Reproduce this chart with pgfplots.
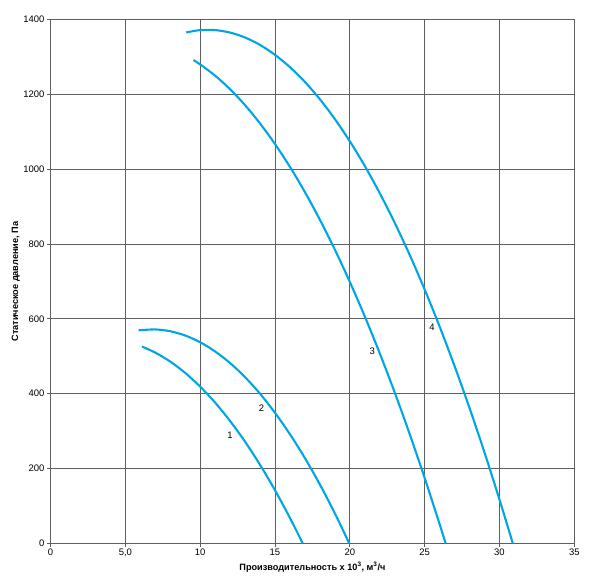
\documentclass[border=0pt]{standalone}
\usepackage{fontspec}
\setmainfont{Liberation Sans}
\usepackage{pgfplots}
\pgfplotsset{compat=1.18}
\definecolor{curve}{RGB}{0,166,228}
\definecolor{gridc}{RGB}{95,95,95}
\tikzset{fancurve/.style={draw=curve, line width=2.1bp, smooth, tension=0.5, mark=none}}
\begin{document}
\begin{tikzpicture}
\path[use as bounding box] (-50.5bp,-39.7bp) rectangle (549.5bp,543.3bp);
\begin{axis}[
  at={(0,0)}, anchor=south west,
  scale only axis,
  width=523.8bp, height=523.6bp,
  xmin=0, xmax=35, ymin=0, ymax=1400,
  xtick={0,5,10,15,20,25,30,35},
  xticklabels={0,{5,0},10,15,20,25,30,35},
  ytick={0,200,400,600,800,1000,1200,1400},
  yticklabels={0,200,400,600,800,1000,1200,1400},
  grid=major,
  grid style={gridc, line width=0.8bp},
  axis line style={gridc, line width=0.9bp},
  tick style={gridc, line width=0.8bp},
  tick align=outside,
  tick pos=left,
  major tick length=3.5bp,
  tick label style={font=\fontsize{9.5}{10}\selectfont, text=black},
  xticklabel style={yshift=1bp},
  yticklabel style={xshift=1bp},
  xlabel={\textbf{Производительность x 10\textsuperscript{3}, м\textsuperscript{3}/ч}},
  ylabel={\textbf{Статическое давление, Па}},
  xlabel style={at={(axis description cs:0.5,-0.0453)}, anchor=center, font=\fontsize{9.2}{10}\selectfont},
  ylabel style={at={(axis description cs:-0.066,0.5)}, anchor=center, font=\fontsize{9.2}{10}\selectfont},
  clip=false,
]
\addplot[fancurve] coordinates {(6.11,526) (7,509.9) (8,485.9) (9,455.6) (10,419) (11,376.2) (12,327) (13,271.7) (14,210) (15,142) (16,67.8) (16.85,0)};
\addplot[fancurve] coordinates {(5.89,569.5) (7,571.8) (8,567) (9,555.6) (10,537.6) (11,513) (12,482) (13,444.2) (14,400) (15,349) (16,291.7) (17,227.8) (18,157.3) (19,80.2) (19.96,0)};
\addplot[fancurve] coordinates {(9.55,1292) (10,1280.5) (11,1250.4) (12,1214) (13,1171.5) (14,1122.7) (15,1067.7) (16,1006.5) (17,939) (18,865.2) (19,785.3) (20,699) (21,606.7) (22,508) (23,403.2) (24,292.1) (25,174.8) (26,51.3) (26.4,0)};
\addplot[fancurve] coordinates {(9.07,1366) (10,1372.2) (11,1372.2) (12,1365.6) (13,1352.4) (14,1332.6) (15,1306) (16,1273.1) (17,1233.5) (18,1187.3) (19,1134.4) (20,1075) (21,1009) (22,936.2) (23,857) (24,771.2) (25,678.7) (26,579.6) (27,473.9) (28,361.6) (29,242.7) (30,117) (30.89,0)};
\node[font=\fontsize{9.5}{10}\selectfont] at (axis cs:12,290) {1};
\node[font=\fontsize{9.5}{10}\selectfont] at (axis cs:14.1,362) {2};
\node[font=\fontsize{9.5}{10}\selectfont] at (axis cs:21.5,514) {3};
\node[font=\fontsize{9.5}{10}\selectfont] at (axis cs:25.5,579) {4};
\end{axis}
\end{tikzpicture}
\end{document}
